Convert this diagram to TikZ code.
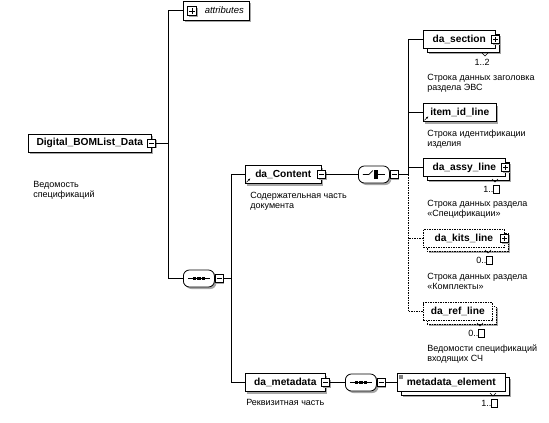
\documentclass[tikz,border=0pt]{standalone}
\usepackage{fontspec}
\setmainfont{Liberation Sans}
\usetikzlibrary{shadows,arrows.meta}
\newcommand{\unbnd}{{\fboxsep=0pt\fboxrule=0.7pt\fbox{\rule{0pt}{7pt}\hspace{5pt}}}}

\begin{document}
\begin{tikzpicture}[
    x=1pt, y=1pt,
    line width=0.6pt,
    elem/.style={rectangle, draw, fill=white, anchor=west, minimum height=18pt, inner sep=2pt, font=\bfseries\fontsize{10.2}{12}\selectfont},
    single/.style={elem, drop shadow={shadow xshift=2pt, shadow yshift=-2pt, fill=black!35, opacity=1}},
    multi/.style={elem, general shadow={shadow xshift=5.5pt, shadow yshift=-5.5pt, fill=black!35}, copy shadow={shadow xshift=3.5pt, shadow yshift=-3.5pt}},
    optional/.style={dash pattern=on 1.5pt off 1pt},
    desc/.style={anchor=north west, align=left, inner sep=0pt, font=\fontsize{9}{10}\selectfont},
    card/.style={anchor=east, inner sep=0pt, font=\fontsize{9}{10}\selectfont},
    tog/.style={rectangle, draw, fill=white, minimum size=8pt, inner sep=0pt, drop shadow={shadow xshift=1pt, shadow yshift=-1pt, fill=black!35, opacity=1}},
    minus/.style={tog, path picture={\draw ([xshift=1.5pt]path picture bounding box.west) -- ([xshift=-1.5pt]path picture bounding box.east);}},
    plus/.style={tog, path picture={\draw ([xshift=1.5pt]path picture bounding box.west) -- ([xshift=-1.5pt]path picture bounding box.east);
        \draw ([yshift=1.5pt]path picture bounding box.south) -- ([yshift=-1.5pt]path picture bounding box.north);}},
    compositor/.style={rectangle, rounded corners=6pt, draw, line width=0.8pt, fill=white, anchor=west, minimum width=31pt, minimum height=17pt, inner sep=0pt, drop shadow={shadow xshift=2pt, shadow yshift=-2pt, fill=black!35, opacity=1}},
    sequence/.style={compositor, path picture={\begin{scope}[shift={(path picture bounding box.center)}, sharp corners, line width=0.6pt, fill=black]
        \draw (-11,0) -- (11,0);
        \fill (-6.2,-1.6) rectangle (-3,1.6);
        \fill (-1.6,-1.6) rectangle (1.6,1.6);
        \fill (3,-1.6) rectangle (6.2,1.6);
        \end{scope}}},
    choice/.style={compositor, path picture={\begin{scope}[shift={(path picture bounding box.center)}, sharp corners, line width=0.6pt, fill=black]
        \draw (-11,0) -- (-5,0) -- (-1,4);
        \draw[line width=1pt] (1,-4.5) -- (1,4.5);
        \draw (1,0) -- (11,0);
        \fill (1.5,-4.2) rectangle (4.4,-1.8);
        \fill (1.5,-1.2) rectangle (4.4,1.2);
        \fill (1.5,1.8) rectangle (4.4,4.2);
        \end{scope}}}
]
\useasboundingbox (0,0) rectangle (549,-423);

% Root element
\node[single, minimum width=123pt] (root) at (28,-143) {Digital\_BOMList\_Data};
\node[minus] (rootT) at (root.east) {};
\node[desc] (rootD) at (33,-181.5) {Ведомость\\спецификаций};

% Attributes
\node[single, minimum height=19pt, minimum width=66pt, font=\itshape\fontsize{9.5}{12}\selectfont, inner xsep=3pt] (attr) at (183,-10.5) {\hspace{16pt}attributes};
\node[plus, minimum size=9pt] (attrT) at (192,-11) {};

% Top sequence
\node[sequence] (seq1) at (183,-278.5) {};
\node[minus, anchor=west] (seq1T) at (seq1.east) {};

% da_Content
\node[single, minimum width=76pt] (cont) at (245,-174.5) {da\_Content};
\node[minus] (contT) at (cont.east) {};
\node[desc] (contD) at (250,-191.5) {Содержательная часть\\документа};
\node[choice] (choice) at (358,-174.5) {};
\node[minus, anchor=west] (choiceT) at (choice.east) {};

% Choice members
\node[multi, minimum width=72pt] (section) at (423,-39.5) {da\_section};
\node[plus] (sectionT) at (section.east) {};
\node[card] (sectionC) at (490,-62) {1..2};
\node[desc] (sectionD) at (427,-73.5) {Строка данных заголовка\\раздела ЭВС};

\node[single, minimum width=73pt] (item) at (423,-112.5) {item\_id\_line};
\node[desc] (itemD) at (427,-129.5) {Строка идентификации\\изделия};

\node[multi, minimum width=82pt] (assy) at (423,-167.5) {da\_assy\_line};
\node[plus] (assyT) at (assy.east) {};
\node[card] (assyC) at (500,-189) {1..\unbnd};
\node[desc] (assyD) at (427,-199.5) {Строка данных раздела\\«Спецификации»};

\node[multi, optional, minimum width=81pt] (kits) at (423,-238.5) {da\_kits\_line};
\node[plus] (kitsT) at (kits.east) {};
\node[card] (kitsC) at (493,-260) {0..\unbnd};
\node[desc] (kitsD) at (427,-272.5) {Строка данных раздела\\«Комплекты»};

\node[multi, optional, minimum width=69pt] (ref) at (423,-311.5) {da\_ref\_line};
\node[card] (refC) at (485,-333) {0..\unbnd};
\node[desc] (refD) at (427,-344.5) {Ведомости спецификаций\\входящих СЧ};

% da_metadata
\node[single, minimum width=80pt] (meta) at (245,-382.5) {da\_metadata};
\node[minus] (metaT) at (meta.east) {};
\node[desc] (metaD) at (246,-399.5) {Реквизитная часть};
\node[sequence] (seq2) at (345,-382.5) {};
\node[minus, anchor=west] (seq2T) at (seq2.east) {};
\node[multi, minimum width=108pt] (metael) at (397,-382.5) {metadata\_element};
\node[card] (metaelC) at (498,-403) {1..\unbnd};

% Markers on the boxes
\foreach \c in {sectionC,assyC,kitsC,refC,metaelC}
    \draw ([shift={(-8,5.5)}]\c.north east) -- ++(3,-3) -- ++(3,3);
\draw[-{Latex[length=2.5pt,width=2pt]}] ([shift={(1.5,1.5)}]cont.south west) -- ++(4,4);
\draw[-{Latex[length=2.5pt,width=2pt]}] ([shift={(1.5,1.5)}]item.south west) -- ++(4,4);
\fill[black!50] ([shift={(2,-2)}]metael.north west) rectangle ++(4,-4);

% Connections
\coordinate (sp1) at (168,0);
\coordinate (sp2) at (231,0);
\coordinate (sp3) at (408,0);
\draw (rootT.east) -- (rootT.east -| sp1);
\draw (attr.west) -- (attr.west -| sp1) -- (seq1.west -| sp1) -- (seq1.west);
\draw (seq1T.east) -- (seq1T.east -| sp2);
\draw (cont.west) -- (cont.west -| sp2) -- (meta.west -| sp2) -- (meta.west);
\draw (contT.east) -- (choice.west);
\draw (choiceT.east) -- (choiceT.east -| sp3);
\draw (section.west) -- (section.west -| sp3) -- (choiceT.east -| sp3);
\draw (item.west) -- (item.west -| sp3);
\draw (assy.west) -- (assy.west -| sp3);
\draw[optional] (choiceT.east -| sp3) -- (ref.west -| sp3) -- (ref.west);
\draw[optional] (kits.west) -- (kits.west -| sp3);
\draw (metaT.east) -- (seq2.west);
\draw (seq2T.east) -- (metael.west);

\end{tikzpicture}
\end{document}
